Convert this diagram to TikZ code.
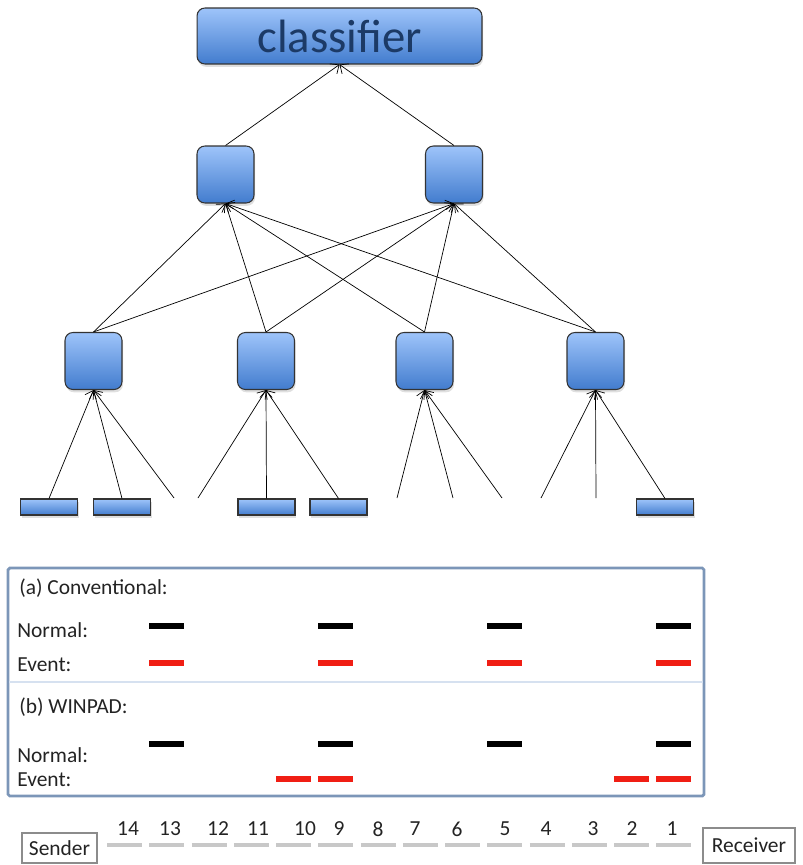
\documentclass[tikz,border=0pt]{standalone}
\usepackage{fontspec}
\setmainfont{Carlito}
\usepackage{tikz}
\usetikzlibrary{
        arrows.meta,
        positioning,
        shadows
    }
\definecolor{boxtop}{RGB}{158,196,250}
\definecolor{boxbot}{RGB}{66,124,206}
\definecolor{clstext}{RGB}{28,58,102}
\definecolor{panelline}{RGB}{124,150,184}
\definecolor{panelsep}{RGB}{214,225,240}
\definecolor{evred}{RGB}{240,30,20}
\definecolor{pktgray}{RGB}{200,200,200}
\definecolor{labtext}{RGB}{35,35,35}
\tikzset{>={Straight Barb[length=4pt,width=7pt]},line width=0.6pt}
\tikzset{unit/.style={draw=black!80,line width=0.6pt,rounded corners=4.5pt,
        top color=boxtop,bottom color=boxbot,inner sep=0pt,
        drop shadow={shadow xshift=0.6pt,shadow yshift=-1.6pt,opacity=0.25},
        minimum width=1.14cm,minimum height=1.14cm}}
\tikzset{inbox/.style={unit,rounded corners=0pt,minimum height=0.32cm}}
\tikzset{lab/.style={anchor=west,text=labtext,inner sep=0pt,font=\fontsize{12.2}{14}\selectfont}}
\tikzset{normbar/.style={line width=3.6pt,black}}
\tikzset{eventbar/.style={line width=3.6pt,evred}}
\newcommand{\pktx}[1]{124.5+42.25*(14-#1)}

\begin{document}
\begin{tikzpicture}[x=0.02cm,y=-0.02cm]
                    \useasboundingbox (0,0) rectangle (802,865);
                    % network
                        \node[unit,minimum width=5.7cm,minimum height=1.12cm,text=clstext,
                              font=\fontsize{26.6}{30}\selectfont] (cls) at (339.5,36) {classifier};
                        \node[unit] (h1) at (225.5,174.5) {};
                        \node[unit] (h2) at (454,174.5) {};
                        \node[unit] (l1) at (93.5,361) {};
                        \node[unit] (l2) at (266,361) {};
                        \node[unit] (l3) at (424.5,361) {};
                        \node[unit] (l4) at (595.5,361) {};
                        \node[inbox] (i1) at (49,507) {};
                        \node[inbox] (i2) at (122,507) {};
                        \node[inbox] (i3) at (266.5,507) {};
                        \node[inbox] (i4) at (338.5,507) {};
                        \node[inbox] (i5) at (665,507) {};
                        \coordinate (f1) at (174,498);
                        \coordinate (f2) at (198,498);
                        \coordinate (f3) at (397,498);
                        \coordinate (f4) at (453,498);
                        \coordinate (f5) at (502,498);
                        \coordinate (f6) at (541,498);
                        \coordinate (f7) at (596,498);
                    \path[->]
                            (h1.north) edge (cls.south)
                            (h2.north) edge (cls.south)
                            ;
                    \foreach \l in {l1,l2,l3,l4}
                        \path[->] (\l.north) edge (h1.south) (\l.north) edge (h2.south);
                    \path[->]
                            (i1.north) edge (l1.south)
                            (i2.north) edge (l1.south)
                            (f1) edge (l1.south)
                            (f2) edge (l2.south)
                            (i3.north) edge (l2.south)
                            (i4.north) edge (l2.south)
                            (f3) edge (l3.south)
                            (f4) edge (l3.south)
                            (f5) edge (l3.south)
                            (f6) edge (l4.south)
                            (f7) edge (l4.south)
                            (i5.north) edge (l4.south)
                            ;
                    % timelines
                    \draw[panelline,line width=1.6pt,rounded corners=1pt] (8,568) rectangle (704,796);
                    \draw[panelsep,line width=1.6pt] (9,682) -- (703,682);
                        \node[lab] (conv)  at (19,588) {(a) Conventional:};
                        \node[lab] (norma) at (17,630) {Normal:};
                        \node[lab] (evta)  at (17,665) {Event:};
                        \node[lab] (winp)  at (19,707) {(b) WINPAD:};
                        \node[lab] (normb) at (17,755) {Normal:};
                        \node[lab] (evtb)  at (17,780) {Event:};
                    \foreach \k in {13,9,5,1} {
                        \draw[normbar] ({\pktx{\k}-17.5},626) -- ++(35,0);
                        \draw[eventbar] ({\pktx{\k}-17.5},663) -- ++(35,0);
                        \draw[normbar] ({\pktx{\k}-17.5},744) -- ++(35,0);
                    }
                    \foreach \k in {10,9,2,1}
                        \draw[eventbar] ({\pktx{\k}-17.5},779) -- ++(35,0);
                    % packets
                        \node[draw=black!45,line width=0.6pt,minimum width=1.5cm,minimum height=0.6cm,
                              inner sep=0pt,text=labtext,font=\fontsize{12.2}{14}\selectfont] (sender) at (59.5,848) {Sender};
                        \node[draw=black!45,line width=0.6pt,minimum width=1.84cm,minimum height=0.7cm,
                              inner sep=0pt,text=labtext,font=\fontsize{12.2}{14}\selectfont] (receiver) at (749,845.5) {Receiver};
                    \foreach \k in {1,...,14}
                        \draw[pktgray,line width=2.4pt] ({\pktx{\k}-17.5},845) -- ++(35,0);
                    \foreach \k/\x in {14/128,13/170,12/218,11/258,10/305,9/339,8/378,7/415,6/457,5/505,4/546,3/593,2/632,1/672}
                        \node[text=labtext,inner sep=0pt,font=\fontsize{12.2}{14}\selectfont] (n\k) at (\x,829) {\k};
            \end{tikzpicture}
\end{document}
